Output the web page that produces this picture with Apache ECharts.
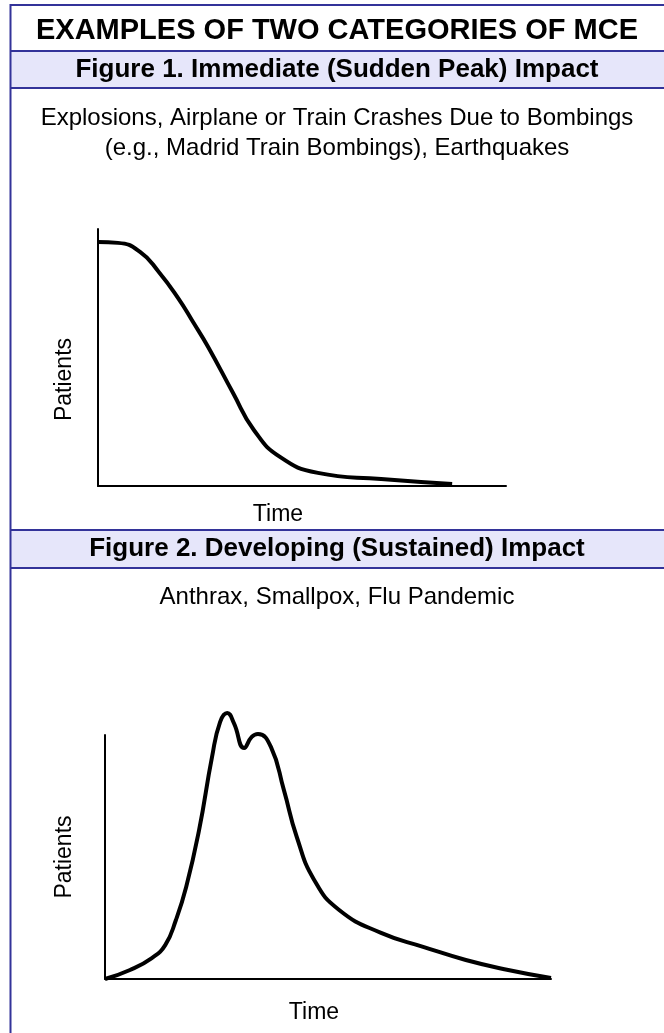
<!DOCTYPE html>
<html>
<head>
<meta charset="utf-8">
<script src="https://cdn.jsdelivr.net/npm/echarts@6/dist/echarts.min.js"></script>
<style>
  html, body { margin: 0; padding: 0; background: #fff; }
  #chart { width: 664px; height: 1033px; }
</style>
</head>
<body>
<div id="chart"></div>
<script>
const mainTitle = 'EXAMPLES OF TWO CATEGORIES OF MCE';
const fig1Title = 'Figure 1. Immediate (Sudden Peak) Impact';
const fig1Notes = ['Explosions, Airplane or Train Crashes Due to Bombings', '(e.g., Madrid Train Bombings), Earthquakes'];
const fig2Title = 'Figure 2. Developing (Sustained) Impact';
const fig2Notes = ['Anthrax, Smallpox, Flu Pandemic'];
const xName = 'Time';
const yName = 'Patients';

// figure 1: sudden peak (time 0-100, patients 0-100)
const suddenTime = [0, 4.9, 10.3, 14.9, 19.6, 23.3, 27.0, 33.1, 38.2, 44.6, 53.9, 69.4, 86.8];
const suddenPatients = [94.9, 94.6, 91.1, 83.3, 73.2, 63.8, 54.1, 36.2, 21.8, 11.3, 5.1, 2.7, 0.8];

// figure 2: developing impact, the peaks go over the top of the axis
const sustainedTime = [0, 5.6, 10.5, 13.5, 15.9, 18.2, 21.1, 24.0, 25.8, 27.4, 28.9, 31.2, 32.9, 34.3, 37.2, 40.1, 43.0, 46.9, 52.5, 61.9, 71.5, 80.9, 90.4, 100];
const sustainedPatients = [0, 3.7, 8.6, 13.9, 24.2, 37.7, 61.1, 91.0, 105.3, 109.0, 104.9, 94.7, 99.2, 100.4, 95.1, 77.5, 58.2, 40.6, 28.3, 18.9, 13.1, 7.8, 3.7, 0.4];

const font = '"Liberation Sans", Arial, sans-serif';
const frameColor = '#333399';
const bandColor = '#E6E6FA';

const chart = echarts.init(document.getElementById('chart'));

const zip = (xs, ys) => xs.map((x, i) => [x, ys[i]]);

const hLine = (y) => ({
    type: 'line', shape: { x1: 10, y1: y, x2: 664, y2: y },
    style: { stroke: frameColor, lineWidth: 2 }
});

const label = (text, y, size, weight) => ({
    type: 'text', x: 337, y: y,
    style: {
        text: text, fill: '#000', font: `${weight} ${size}px ${font}`,
        textAlign: 'center', textVerticalAlign: 'middle'
    }
});

const axisBase = {
    type: 'value', min: 0, max: 100,
    axisLine: { show: true, lineStyle: { color: '#000', width: 2 } },
    axisTick: { show: false }, axisLabel: { show: false }, splitLine: { show: false },
    nameLocation: 'middle'
};

const nameStyle = (padding) => ({ color: '#000', fontSize: 23, fontFamily: font, padding });

const curve = (xi, data, clip) => ({
    type: 'line', xAxisIndex: xi, yAxisIndex: xi, smooth: 0.5,
    symbol: 'none', silent: true, clip: clip,
    lineStyle: { color: '#000', width: 4, cap: 'butt' },
    data: data
});

const option = {
    animation: false,
    graphic: [
        { type: 'rect', shape: { x: 10, y: 51, width: 654, height: 37 }, style: { fill: bandColor } },
        { type: 'rect', shape: { x: 10, y: 530, width: 654, height: 38 }, style: { fill: bandColor } },
        hLine(5), hLine(51), hLine(88), hLine(530), hLine(568),
        { type: 'line', shape: { x1: 10.5, y1: 4, x2: 10.5, y2: 1033 }, style: { stroke: frameColor, lineWidth: 2 } },
        label(mainTitle, 31, 29, 'bold'),
        label(fig1Title, 70, 26, 'bold'),
        label(fig1Notes[0], 118, 24, 'normal'),
        label(fig1Notes[1], 148, 24, 'normal'),
        label(fig2Title, 549, 26, 'bold'),
        label(fig2Notes[0], 597, 24, 'normal')
    ],
    grid: [
        { left: 98, top: 229, width: 408, height: 257 },
        { left: 105, top: 735, width: 446, height: 244 }
    ],
    xAxis: [
        { ...axisBase, gridIndex: 0, name: xName, nameGap: 17, nameTextStyle: nameStyle([0, 48, 0, 0]) },
        { ...axisBase, gridIndex: 1, name: xName, nameGap: 22, nameTextStyle: nameStyle([0, 28, 0, 0]) }
    ],
    yAxis: [
        { ...axisBase, gridIndex: 0, name: yName, nameGap: 22, nameTextStyle: nameStyle([0, 44, 0, 0]) },
        { ...axisBase, gridIndex: 1, name: yName, nameGap: 29, nameTextStyle: nameStyle([0, 0, 0, 0]) }
    ],
    series: [
        curve(0, zip(suddenTime, suddenPatients), true),
        curve(1, zip(sustainedTime, sustainedPatients), false)
    ]
};

chart.setOption(option);
</script>
</body>
</html>
